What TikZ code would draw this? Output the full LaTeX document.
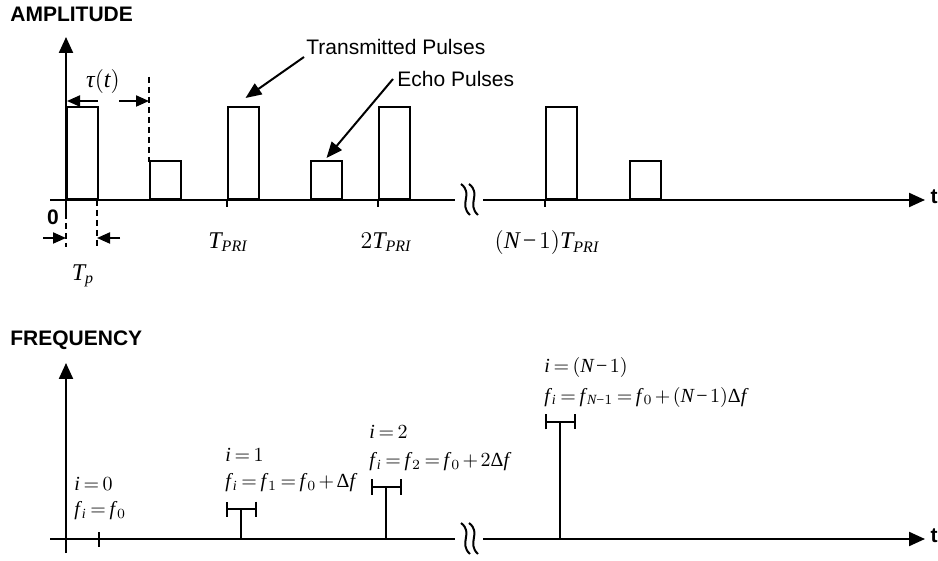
\documentclass[tikz,border=0pt]{standalone}
\usepackage{fontspec}
\setmainfont{Liberation Serif}
\setsansfont{Liberation Sans}
\usetikzlibrary{arrows.meta,calc}
% Times-like letters in math
\DeclareSymbolFont{tmsit}{TU}{\rmdefault}{m}{it}
\DeclareSymbolFont{tmsrm}{TU}{\rmdefault}{m}{n}
\DeclareMathSymbol{f}{\mathalpha}{tmsit}{`f}
\DeclareMathSymbol{i}{\mathalpha}{tmsit}{`i}
\DeclareMathSymbol{p}{\mathalpha}{tmsit}{`p}
\DeclareMathSymbol{t}{\mathalpha}{tmsit}{`t}
\DeclareMathSymbol{T}{\mathalpha}{tmsit}{`T}
\DeclareMathSymbol{P}{\mathalpha}{tmsit}{`P}
\DeclareMathSymbol{R}{\mathalpha}{tmsit}{`R}
\DeclareMathSymbol{I}{\mathalpha}{tmsit}{`I}
\DeclareMathSymbol{N}{\mathalpha}{tmsit}{`N}
\DeclareMathSymbol{0}{\mathalpha}{tmsrm}{`0}
\DeclareMathSymbol{1}{\mathalpha}{tmsrm}{`1}
\DeclareMathSymbol{2}{\mathalpha}{tmsrm}{`2}
\DeclareMathSymbol{=}{\mathrel}{tmsrm}{`=}
\DeclareMathSymbol{+}{\mathbin}{tmsrm}{`+}
\DeclareMathSymbol{(}{\mathopen}{tmsrm}{`(}
\DeclareMathSymbol{)}{\mathclose}{tmsrm}{`)}
\AtBeginDocument{%
  \Umathcode`\-=2 \symtmsrm "2212\relax
  \Umathchardef\Delta=0 \symtmsrm "0394\relax
  \Umathchardef\tau=0 \symtmsit "03C4\relax}
\thickmuskip=3.2mu
\medmuskip=2.2mu
\newcommand\fsub[1]{f\kern1pt_{#1}}

\begin{document}
\begin{tikzpicture}[x=0.5pt,y=-0.5pt,
    axis/.style={line width=1.1pt,-{Triangle[length=8pt,width=7pt]}},
    line/.style={line width=1.1pt},
    dim/.style={line width=1pt,-{Triangle[length=6.5pt,width=5.5pt]}},
    ptr/.style={line width=1pt,-{Triangle[length=8pt,width=6.5pt]}},
    guide/.style={line width=1pt,dash pattern=on 3pt off 2pt},
    pulse/.style={draw,line width=1pt,inner sep=0pt,minimum width=15.5pt,anchor=south west},
    txp/.style={pulse,minimum height=46pt},
    ecp/.style={pulse,minimum height=19pt},
    ttl/.style={font=\fontsize{10.5}{12}\sffamily\bfseries,anchor=west,inner sep=0pt},
    lbl/.style={font=\fontsize{10.5}{12}\sffamily,anchor=west,inner sep=0pt},
    eq/.style={anchor=west,inner sep=0pt},
    stem/.style={line width=1pt},
    bar/.style={line width=1pt,{Bar[width=7.5pt]}-{Bar[width=7.5pt]}}]
  \useasboundingbox (0,0) rectangle (938,561);

  % amplitude
  \node[ttl] (amp) at (10,14) {AMPLITUDE};
  \draw[axis] (66,213) -- (66,37);
  \draw[line] (50,200) -- (455,200);
  \draw[axis] (483,200) -- (925,200);
  \node[ttl,anchor=center] (tA) at (934,197) {t};
  \node[ttl,anchor=center] (zero) at (53,217) {0};

  \node[txp] (tx1) at (66,200) {};
  \node[txp] (tx2) at (227,200) {};
  \node[txp] (tx3) at (378,200) {};
  \node[txp] (tx4) at (545,200) {};
  \node[ecp] (ec1) at (149,200) {};
  \node[ecp] (ec2) at (310,200) {};
  \node[ecp] (ec3) at (629,200) {};

  \foreach \x in {227,378,545} \draw[line width=1pt] (\x,200) -- (\x,207);
  \node[font=\large] (tpri1) at (228,242) {$T_{PRI}$};
  \node[font=\large] (tpri2) at (386,242) {$2T_{PRI}$};
  \node[font=\large] (tpri3) at (547,243) {$(N-1)T_{PRI}$};

  % pulse width and delay
  \draw[guide] (66,213) -- (66,247);
  \draw[guide] (97,200) -- (97,247);
  \draw[guide] (149,77) -- (149,162);
  \draw[dim] (43,238) -- (66,238);
  \draw[dim] (120,238) -- (97,238);
  \node[font=\large] (tp) at (83,276) {$T_p$};
  \draw[dim] (98,101) -- (67,101);
  \draw[dim] (119,101) -- (149,101);
  \node[font=\large] (tau) at (103,82) {$\tau(t)$};

  \node[lbl] (txlbl) at (306,47) {Transmitted Pulses};
  \node[lbl] (eclbl) at (397,79) {Echo Pulses};
  \draw[ptr] ([xshift=-1pt,yshift=-5pt]txlbl.west) -- ([xshift=1pt,yshift=4pt]tx2.north);
  \draw[ptr] ([xshift=-2pt]eclbl.west) -- ([yshift=1pt]ec2.north);

  % frequency
  \node[ttl] (freq) at (10,340) {FREQUENCY};
  \draw[axis] (66,553) -- (66,363);
  \draw[line] (50,539) -- (455,539);
  \draw[axis] (483,539) -- (925,539);
  \node[ttl,anchor=center] (tF) at (934,536) {t};
  \draw[line width=1pt] (99,532) -- (99,547);

  \foreach \x/\y in {241/509,386/487,560/422}{
    \draw[stem] (\x,539) -- (\x,\y);
    \draw[bar] (\x-15.5,\y) -- (\x+15.5,\y);
  }

  \node[eq] (i0) at (74,484) {$i=0$};
  \node[eq] (f0) at (74,511) {$\fsub{i}=\fsub{0}$};
  \node[eq] (i1) at (225,455) {$i=1$};
  \node[eq] (f1) at (225,483) {$\fsub{i}=\fsub{1}=\fsub{0}+\Delta f$};
  \node[eq] (i2) at (369,432) {$i=2$};
  \node[eq] (f2) at (369,462) {$\fsub{i}=\fsub{2}=\fsub{0}+2\Delta f$};
  \node[eq] (iN) at (544,367) {$i=(N-1)$};
  \node[eq] (fN) at (544,397) {$\fsub{i}=\fsub{N-1}=\fsub{0}+(N-1)\Delta f$};

  % axis breaks
  \foreach \y in {200,539}
    \foreach \d in {0,8}
      \draw[line width=1pt] (461+\d,\y-16) .. controls (474+\d,\y-6) and (458+\d,\y+4) .. (470+\d,\y+15);
\end{tikzpicture}
\end{document}
